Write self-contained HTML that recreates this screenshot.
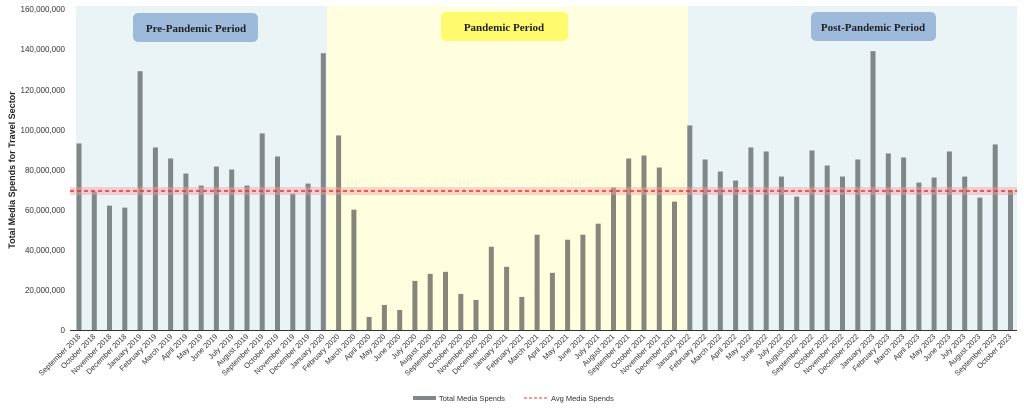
<!DOCTYPE html>
<html><head><meta charset="utf-8"><style>
html,body{margin:0;padding:0;background:#fff;width:1024px;height:409px;overflow:hidden}
svg{display:block;font-family:"Liberation Sans",sans-serif}
.t{font-size:7.5px;fill:#333}
.y{font-size:8px;fill:#333;text-anchor:end}
</style></head><body>
<svg width="1024" height="409" viewBox="0 0 1024 409">
<rect x="76" y="6" width="251" height="324" fill="#eaf4f7"/>
<rect x="327" y="6" width="361" height="324" fill="#ffffe0"/>
<rect x="688" y="6" width="329" height="324" fill="#eaf4f7"/>
<rect x="133" y="13" width="125" height="29" rx="5" fill="#9dbadb"/>
<rect x="441" y="12" width="127" height="29" rx="5" fill="#fffa6e"/>
<rect x="811" y="12" width="125" height="29" rx="5" fill="#9dbadb"/>
<g font-family="Liberation Serif,serif" font-weight="bold" font-size="11" fill="#222" text-anchor="middle">
<text x="196" y="32">Pre-Pandemic Period</text>
<text x="504" y="31">Pandemic Period</text>
<text x="873" y="31">Post-Pandemic Period</text>
</g>
<g class="y">
<text x="65" y="12">160,000,000</text>
<text x="65" y="52">140,000,000</text>
<text x="65" y="93">120,000,000</text>
<text x="65" y="133">100,000,000</text>
<text x="65" y="173">80,000,000</text>
<text x="65" y="213">60,000,000</text>
<text x="65" y="253">40,000,000</text>
<text x="65" y="293">20,000,000</text>
<text x="65" y="333">0</text>
</g>
<text transform="translate(15,170) rotate(-90)" text-anchor="middle" font-size="9" font-weight="bold" fill="#222">Total Media Spends for Travel Sector</text>
<g transform="translate(0,330) scale(1,-2.006)" fill="#7f8788">
<rect x="76.5" y="0" width="5" height="93"/><rect x="91.8" y="0" width="5" height="69"/><rect x="107" y="0" width="5" height="62"/><rect x="122.3" y="0" width="5" height="61"/><rect x="137.6" y="0" width="5" height="129"/><rect x="152.9" y="0" width="5" height="91"/><rect x="168.1" y="0" width="5" height="85.5"/><rect x="183.4" y="0" width="5" height="78"/><rect x="198.7" y="0" width="5" height="72"/><rect x="213.9" y="0" width="5" height="81.5"/><rect x="229.2" y="0" width="5" height="80"/><rect x="244.5" y="0" width="5" height="72"/><rect x="259.7" y="0" width="5" height="98"/><rect x="275" y="0" width="5" height="86.5"/><rect x="290.3" y="0" width="5" height="68"/><rect x="305.6" y="0" width="5" height="73"/><rect x="320.8" y="0" width="5" height="138"/>
<g fill="#86877a"><rect x="336.1" y="0" width="5" height="97"/><rect x="351.4" y="0" width="5" height="60"/><rect x="366.6" y="0" width="5" height="6.5"/><rect x="381.9" y="0" width="5" height="12.5"/><rect x="397.2" y="0" width="5" height="10"/><rect x="412.4" y="0" width="5" height="24.5"/><rect x="427.7" y="0" width="5" height="28"/><rect x="443" y="0" width="5" height="29"/><rect x="458.3" y="0" width="5" height="18"/><rect x="473.5" y="0" width="5" height="15"/><rect x="488.8" y="0" width="5" height="41.5"/><rect x="504.1" y="0" width="5" height="31.5"/><rect x="519.3" y="0" width="5" height="16.5"/><rect x="534.6" y="0" width="5" height="47.5"/><rect x="549.9" y="0" width="5" height="28.5"/><rect x="565.1" y="0" width="5" height="45"/><rect x="580.4" y="0" width="5" height="47.5"/><rect x="595.7" y="0" width="5" height="53"/><rect x="611" y="0" width="5" height="71"/><rect x="626.2" y="0" width="5" height="85.5"/><rect x="641.5" y="0" width="5" height="87"/><rect x="656.8" y="0" width="5" height="81"/><rect x="672" y="0" width="5" height="64"/></g>
<rect x="687.3" y="0" width="5" height="102"/><rect x="702.6" y="0" width="5" height="85"/><rect x="717.8" y="0" width="5" height="79"/><rect x="733.1" y="0" width="5" height="74.5"/><rect x="748.4" y="0" width="5" height="91"/><rect x="763.7" y="0" width="5" height="89"/><rect x="778.9" y="0" width="5" height="76.5"/><rect x="794.2" y="0" width="5" height="66.5"/><rect x="809.5" y="0" width="5" height="89.5"/><rect x="824.7" y="0" width="5" height="82"/><rect x="840" y="0" width="5" height="76.5"/><rect x="855.3" y="0" width="5" height="85"/><rect x="870.5" y="0" width="5" height="139"/><rect x="885.8" y="0" width="5" height="88"/><rect x="901.1" y="0" width="5" height="86"/><rect x="916.4" y="0" width="5" height="73.5"/><rect x="931.6" y="0" width="5" height="76"/><rect x="946.9" y="0" width="5" height="89"/><rect x="962.2" y="0" width="5" height="76.5"/><rect x="977.4" y="0" width="5" height="66"/><rect x="992.7" y="0" width="5" height="92.5"/><rect x="1008" y="0" width="5" height="69.5"/>
</g>
<rect x="70" y="187" width="947" height="8" fill="#f4a0a0" opacity="0.45"/>
<line x1="70" y1="191" x2="1017" y2="191" stroke="#e83030" stroke-width="1.6" stroke-dasharray="4,3"/>
<line x1="70" y1="330.5" x2="1017" y2="330.5" stroke="#333" stroke-width="1"/>
<g class="t" text-anchor="end">
<text transform="translate(81,337) rotate(-45)">September 2018</text>
<text transform="translate(96,337) rotate(-45)">October 2018</text>
<text transform="translate(112,337) rotate(-45)">November 2018</text>
<text transform="translate(127,337) rotate(-45)">December 2018</text>
<text transform="translate(142,337) rotate(-45)">January 2019</text>
<text transform="translate(157,337) rotate(-45)">February 2019</text>
<text transform="translate(173,337) rotate(-45)">March 2019</text>
<text transform="translate(188,337) rotate(-45)">April 2019</text>
<text transform="translate(203,337) rotate(-45)">May 2019</text>
<text transform="translate(218,337) rotate(-45)">June 2019</text>
<text transform="translate(234,337) rotate(-45)">July 2019</text>
<text transform="translate(249,337) rotate(-45)">August 2019</text>
<text transform="translate(264,337) rotate(-45)">September 2019</text>
<text transform="translate(279,337) rotate(-45)">October 2019</text>
<text transform="translate(295,337) rotate(-45)">November 2019</text>
<text transform="translate(310,337) rotate(-45)">December 2019</text>
<text transform="translate(325,337) rotate(-45)">January 2020</text>
<text transform="translate(340,337) rotate(-45)">February 2020</text>
<text transform="translate(356,337) rotate(-45)">March 2020</text>
<text transform="translate(371,337) rotate(-45)">April 2020</text>
<text transform="translate(386,337) rotate(-45)">May 2020</text>
<text transform="translate(401,337) rotate(-45)">June 2020</text>
<text transform="translate(417,337) rotate(-45)">July 2020</text>
<text transform="translate(432,337) rotate(-45)">August 2020</text>
<text transform="translate(447,337) rotate(-45)">September 2020</text>
<text transform="translate(463,337) rotate(-45)">October 2020</text>
<text transform="translate(478,337) rotate(-45)">November 2020</text>
<text transform="translate(493,337) rotate(-45)">December 2020</text>
<text transform="translate(508,337) rotate(-45)">January 2021</text>
<text transform="translate(524,337) rotate(-45)">February 2021</text>
<text transform="translate(539,337) rotate(-45)">March 2021</text>
<text transform="translate(554,337) rotate(-45)">April 2021</text>
<text transform="translate(569,337) rotate(-45)">May 2021</text>
<text transform="translate(585,337) rotate(-45)">June 2021</text>
<text transform="translate(600,337) rotate(-45)">July 2021</text>
<text transform="translate(615,337) rotate(-45)">August 2021</text>
<text transform="translate(630,337) rotate(-45)">September 2021</text>
<text transform="translate(646,337) rotate(-45)">October 2021</text>
<text transform="translate(661,337) rotate(-45)">November 2021</text>
<text transform="translate(676,337) rotate(-45)">December 2021</text>
<text transform="translate(691,337) rotate(-45)">January 2022</text>
<text transform="translate(707,337) rotate(-45)">February 2022</text>
<text transform="translate(722,337) rotate(-45)">March 2022</text>
<text transform="translate(737,337) rotate(-45)">April 2022</text>
<text transform="translate(752,337) rotate(-45)">May 2022</text>
<text transform="translate(768,337) rotate(-45)">June 2022</text>
<text transform="translate(783,337) rotate(-45)">July 2022</text>
<text transform="translate(798,337) rotate(-45)">August 2022</text>
<text transform="translate(814,337) rotate(-45)">September 2022</text>
<text transform="translate(829,337) rotate(-45)">October 2022</text>
<text transform="translate(844,337) rotate(-45)">November 2022</text>
<text transform="translate(859,337) rotate(-45)">December 2022</text>
<text transform="translate(875,337) rotate(-45)">January 2023</text>
<text transform="translate(890,337) rotate(-45)">February 2023</text>
<text transform="translate(905,337) rotate(-45)">March 2023</text>
<text transform="translate(920,337) rotate(-45)">April 2023</text>
<text transform="translate(936,337) rotate(-45)">May 2023</text>
<text transform="translate(951,337) rotate(-45)">June 2023</text>
<text transform="translate(966,337) rotate(-45)">July 2023</text>
<text transform="translate(981,337) rotate(-45)">August 2023</text>
<text transform="translate(997,337) rotate(-45)">September 2023</text>
<text transform="translate(1012,337) rotate(-45)">October 2023</text>
</g>
<rect x="413" y="396" width="23" height="4" fill="#7f8788"/>
<text x="439" y="401" class="t">Total Media Spends</text>
<line x1="524" y1="398" x2="547" y2="398" stroke="#e83030" stroke-width="1" stroke-dasharray="3,2"/>
<text x="551" y="401" class="t">Avg Media Spends</text>
</svg>
</body></html>
